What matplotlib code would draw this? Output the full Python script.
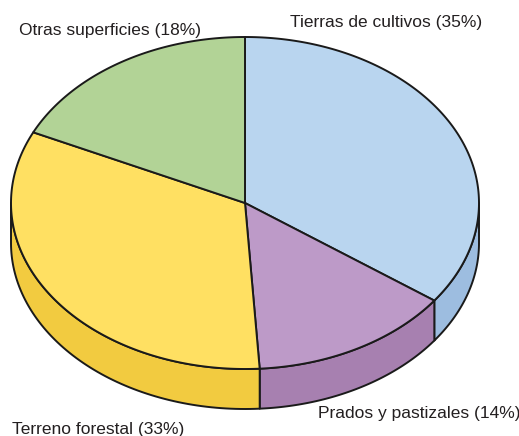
import numpy as np
from matplotlib import pyplot as plt
from matplotlib.patches import Polygon

labels = ["Tierras de cultivos (35%)", "Prados y pastizales (14%)",
          "Terreno forestal (33%)", "Otras superficies (18%)"]
shares = [35, 14, 33, 18]
top_colors = ["#b9d5ef", "#bd9ac8", "#ffe062", "#b2d396"]
side_colors = ["#9dbde0", "#a780b0", "#f2cb40", "#9fc282"]

# pie geometry in pixels
cx, cy = 245, 203
rx, ry = 234, 166
depth = 40
edge = "#1a1a1a"
lw = 1.4

fig = plt.figure(figsize=(5.19, 4.36), dpi=100)
ax = fig.add_axes([0, 0, 1, 1])
ax.set_xlim(0, 519)
ax.set_ylim(436, 0)
ax.axis("off")


def pt(a, dy=0):
    r = np.radians(a)
    return cx + rx * np.cos(r), cy - ry * np.sin(r) + dy


# angles: start at top, go clockwise
bounds = 90 - 360 * np.concatenate([[0], np.cumsum(shares)]) / 100.0

# side faces (front half: angles between -180 and 0)
for i in range(len(shares)):
    a0, a1 = bounds[i], bounds[i + 1]  # a0 > a1
    hi = min(a0, 0)
    lo = max(a1, -180)
    if hi <= lo:
        continue
    t = np.linspace(hi, lo, 80)
    top = [pt(a) for a in t]
    bot = [pt(a, depth) for a in t[::-1]]
    ax.add_patch(Polygon(top + bot, closed=True, facecolor=side_colors[i],
                         edgecolor=edge, lw=lw, joinstyle="round"))

# top faces
for i in range(len(shares)):
    a0, a1 = bounds[i], bounds[i + 1]
    t = np.linspace(a0, a1, 150)
    poly = [(cx, cy)] + [pt(a) for a in t]
    ax.add_patch(Polygon(poly, closed=True, facecolor=top_colors[i],
                         edgecolor=edge, lw=lw, joinstyle="round"))

font = dict(family="Liberation Sans", fontsize=12.5, color="#231f20", va="center")
ax.text(290, 22, labels[0], ha="left", **font)
ax.text(318, 413, labels[1], ha="left", **font)
ax.text(12, 429, labels[2], ha="left", **font)
ax.text(19, 30, labels[3], ha="left", **font)

fig.savefig("out.png", dpi=100)
